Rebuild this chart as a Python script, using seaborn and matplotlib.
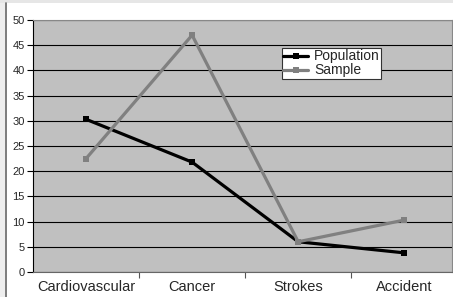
import matplotlib
matplotlib.use("Agg")
import matplotlib.pyplot as plt
import seaborn as sns
import pandas as pd
from matplotlib.patches import Rectangle
from matplotlib.lines import Line2D

categories = ["Cardiovascular", "Cancer", "Strokes", "Accident"]
population = [30.3, 21.8, 6.0, 3.8]
sample = [22.5, 47.0, 6.0, 10.3]
series_names = ["Population", "Sample"]
y_ticks = [0, 5, 10, 15, 20, 25, 30, 35, 40, 45, 50]

df = pd.DataFrame({
    "cause": categories * 2,
    "value": population + sample,
    "series": [series_names[0]] * 4 + [series_names[1]] * 4,
})
df["pos"] = [categories.index(c) for c in df["cause"]]

sns.set_theme(style="white")
plt.rcParams["font.family"] = ["Liberation Sans", "DejaVu Sans"]

W, H = 453, 297
fig = plt.figure(figsize=(W / 100, H / 100), dpi=100)
fig.patch.set_facecolor("white")

# frame decorations
fig.add_artist(Rectangle((0, 1 - 3 / H), 1, 3 / H, transform=fig.transFigure,
                         facecolor="#e6e6e6", edgecolor="none"))
fig.add_artist(Rectangle((0, 0), 5 / W, 1 - 3 / H, transform=fig.transFigure,
                         facecolor="#eeeeee", edgecolor="none"))
fig.add_artist(Line2D([5.5 / W, 5.5 / W], [0, 1 - 3 / H], transform=fig.transFigure,
                      color="#666666", lw=1.2))

ax = fig.add_axes([33 / W, 1 - 272 / H, (452 - 33) / W, (272 - 20) / H])
ax.set_facecolor("#c0c0c0")

palette = {"Population": "#000000", "Sample": "#808080"}
markers = {"Population": "s", "Sample": "s"}
sns.lineplot(data=df, x="pos", y="value", hue="series", style="series",
             palette=palette, markers=markers, dashes=False, lw=2.3,
             markersize=5, markeredgewidth=0, ax=ax, legend=False)

ax.set_xlim(-0.5, 3.45)
ax.set_ylim(0, 50)
ax.set_yticks(y_ticks)
ax.set_yticklabels([str(v) for v in y_ticks], fontsize=8)
ax.yaxis.grid(True, color="black", lw=0.8)
ax.set_axisbelow(True)
ax.set_xticks(range(len(categories)))
ax.set_xticklabels(categories, fontsize=10.5)
ax.set_xticks([0.5, 1.5, 2.5], minor=True)
ax.tick_params(axis="x", which="major", length=0, pad=6)
ax.tick_params(axis="x", which="minor", length=4, width=0.8, color="#555555", direction="out", bottom=True)
ax.tick_params(axis="y", length=4, width=0.8, color="black", direction="out", left=True, pad=2)
ax.set_xlabel("")
ax.set_ylabel("")
for s in ["top", "right"]:
    ax.spines[s].set_color("#888888")
    ax.spines[s].set_linewidth(0.8)
ax.spines["left"].set_color("black")
ax.spines["left"].set_linewidth(0.8)
ax.spines["bottom"].set_color("#666666")
ax.spines["bottom"].set_linewidth(0.8)

handles = [Line2D([], [], color=palette[n], lw=2.3, marker="s", markersize=5,
                  markeredgewidth=0) for n in series_names]
leg = ax.legend(handles, series_names, loc="upper left",
                bbox_to_anchor=((282 - 33) / 419, (272 - 48) / 252),
                fontsize=10, frameon=True, fancybox=False, framealpha=1,
                borderpad=0.1, labelspacing=0.0, handlelength=1.8,
                handletextpad=0.4, borderaxespad=0)
leg.get_frame().set_edgecolor("#333333")
leg.get_frame().set_linewidth(0.8)

fig.savefig("out.png", dpi=100)
